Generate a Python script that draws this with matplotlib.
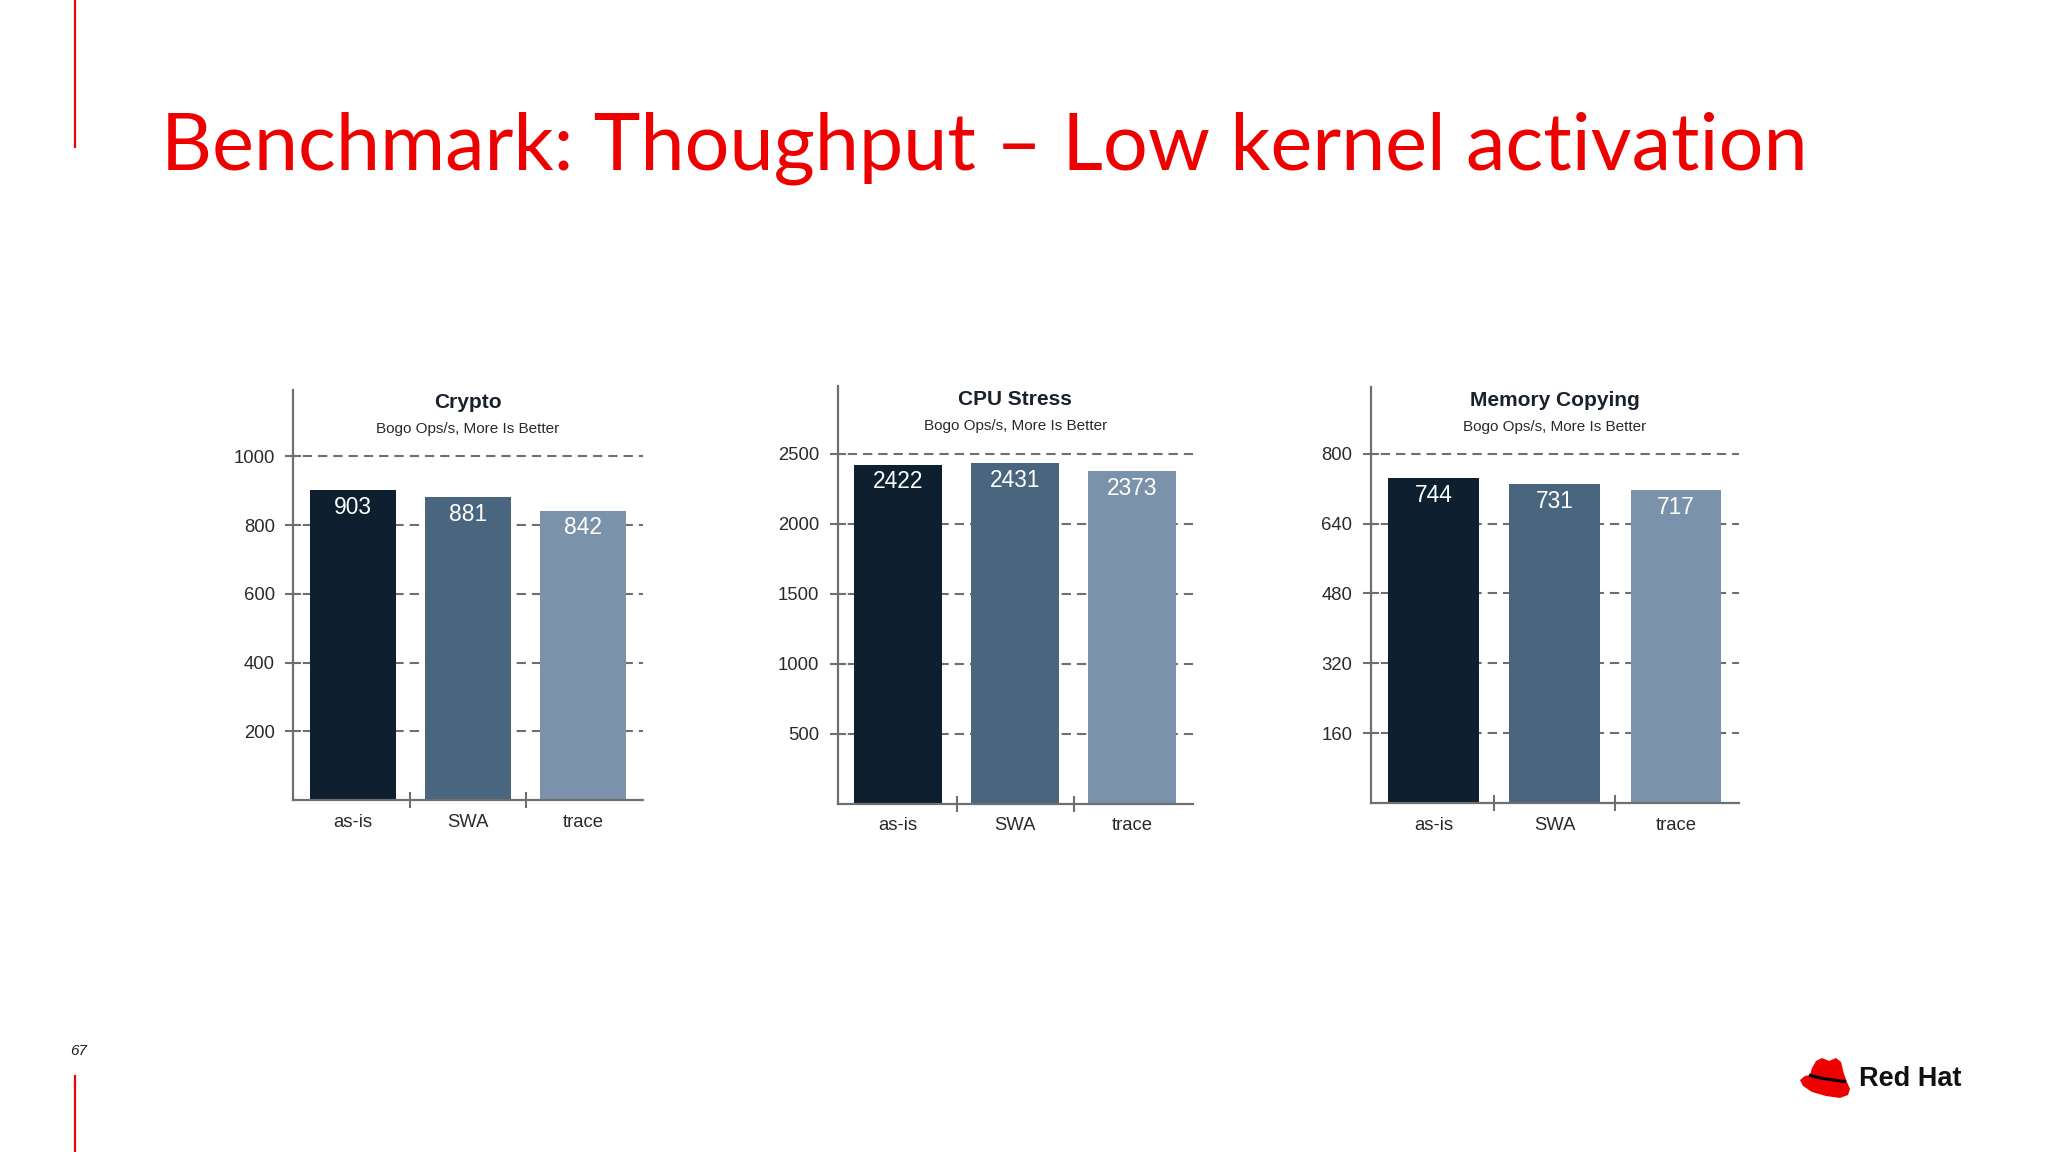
import matplotlib
matplotlib.use("Agg")
import matplotlib.pyplot as plt
import numpy as np
from matplotlib.patches import Polygon
from matplotlib.ticker import FixedLocator

# ---------------- data ----------------
categories = ["as-is", "SWA", "trace"]
titles = ["Crypto", "CPU Stress", "Memory Copying"]
subtitle = "Bogo Ops/s, More Is Better"
crypto_vals = [903, 881, 842]
cpu_vals = [2422, 2431, 2373]
mem_vals = [744, 731, 717]
crypto_ticks = [200, 400, 600, 800, 1000]
cpu_ticks = [500, 1000, 1500, 2000, 2500]
mem_ticks = [160, 320, 480, 640, 800]
slide_title = "Benchmark: Thoughput \u2013 Low kernel activation"
page_number = "67"

bar_colors = ["#0e1f30", "#4a667f", "#7a93aa"]
axis_gray = "#6f6f6f"
text_dark = "#2a2a2a"

DPI = 100
fig = plt.figure(figsize=(20.48, 11.52), dpi=DPI)
fig.patch.set_facecolor("white")
plt.rcParams["font.family"] = ["Liberation Sans", "DejaVu Sans"]
plt.rcParams["lines.scale_dashes"] = False

W, H = 2048, 1152

def px_rect(x0, y0, x1, y1):
    # pixel box (top-left origin) -> figure fraction rect
    return [x0 / W, (H - y1) / H, (x1 - x0) / W, (y1 - y0) / H]

panels = [
    (titles[0], crypto_vals, crypto_ticks, 1193, px_rect(293, 390, 643, 800)),
    (titles[1], cpu_vals, cpu_ticks, 2984, px_rect(837.5, 386, 1193, 803.5)),
    (titles[2], mem_vals, mem_ticks, 953, px_rect(1370.5, 387, 1739, 803)),
]

x = np.arange(len(categories))
for title, vals, ticks, ytop, rect in panels:
    ax = fig.add_axes(rect)
    ax.set_facecolor("none")
    bars = ax.bar(x, vals, width=0.75, color=bar_colors, zorder=2)
    ax.set_xlim(-0.52, 2.52)
    ax.set_ylim(0, ytop)
    ax.set_yticks(ticks)
    ax.set_yticklabels([str(t) for t in ticks], fontsize=13.3, color=text_dark)
    ax.set_xticks(x)
    ax.set_xticklabels(categories, fontsize=13.3, color=text_dark)
    ax.xaxis.set_minor_locator(FixedLocator([0.5, 1.5]))
    ax.tick_params(axis="x", which="major", length=0, pad=10)
    ax.tick_params(axis="x", which="minor", length=12, width=1.5,
                   direction="inout", color=axis_gray)
    ax.tick_params(axis="y", which="major", length=12, width=1.5,
                   direction="inout", color=axis_gray, pad=7)
    for s in ["top", "right"]:
        ax.spines[s].set_visible(False)
    for s in ["left", "bottom"]:
        ax.spines[s].set_color(axis_gray)
        ax.spines[s].set_linewidth(1.6)
    ax.set_axisbelow(True)
    ax.yaxis.grid(True, color=axis_gray, linewidth=1.5,
                  linestyle=(4, (6.7, 4.3)), zorder=0)
    ax.xaxis.grid(False)
    for b, v in zip(bars, vals):
        ax.annotate(str(v), (b.get_x() + b.get_width() / 2, v),
                    xytext=(0, -12.5), textcoords="offset points",
                    ha="center", va="center", color="white", fontsize=16.4,
                    zorder=3)
    ax.text(0.5, 0.955, title, transform=ax.transAxes, ha="center",
            va="baseline", fontsize=15, fontweight="bold", color="#18212c")
    ax.text(0.5, 0.894, subtitle, transform=ax.transAxes, ha="center",
            va="baseline", fontsize=11, color="#2a2a2a")

# ---------------- slide decorations ----------------
bg = fig.add_axes([0, 0, 1, 1], zorder=-1)
bg.set_xlim(0, W)
bg.set_ylim(H, 0)
bg.axis("off")
red = "#ee0000"
bg.plot([74.5, 74.5], [0, 148], color=red, lw=1.6, solid_capstyle="butt")
bg.plot([74.5, 74.5], [1075, H], color=red, lw=1.6, solid_capstyle="butt")
bg.text(161, 169, slide_title, color=red, fontsize=57,
        family=["Lato", "DejaVu Sans"], ha="left", va="baseline")
bg.text(79, 1051, page_number, fontsize=11, style="italic",
        color="#222222", ha="center", va="center")

# Red Hat logo (hat + wordmark)
hat = Polygon([(1800, 1080), (1803, 1086), (1812, 1092), (1826, 1096),
               (1840, 1098), (1848, 1095), (1850, 1089), (1847, 1082),
               (1844, 1074), (1841, 1062), (1836, 1058), (1829, 1061),
               (1822, 1058), (1816, 1061), (1812, 1068), (1810, 1075),
               (1805, 1076)], closed=True, facecolor=red, edgecolor="none")
bg.add_patch(hat)
bg.plot([1809, 1818, 1830, 1840, 1846], [1075, 1077.5, 1079.5, 1081, 1081.5],
        color="black", lw=2.2, solid_capstyle="butt")
bg.text(1859, 1079, "Red Hat", fontsize=19.5, fontweight="bold",
        family=["Liberation Sans", "DejaVu Sans"], color="#111111",
        ha="left", va="center")

fig.savefig("out.png", dpi=DPI, facecolor="white")
